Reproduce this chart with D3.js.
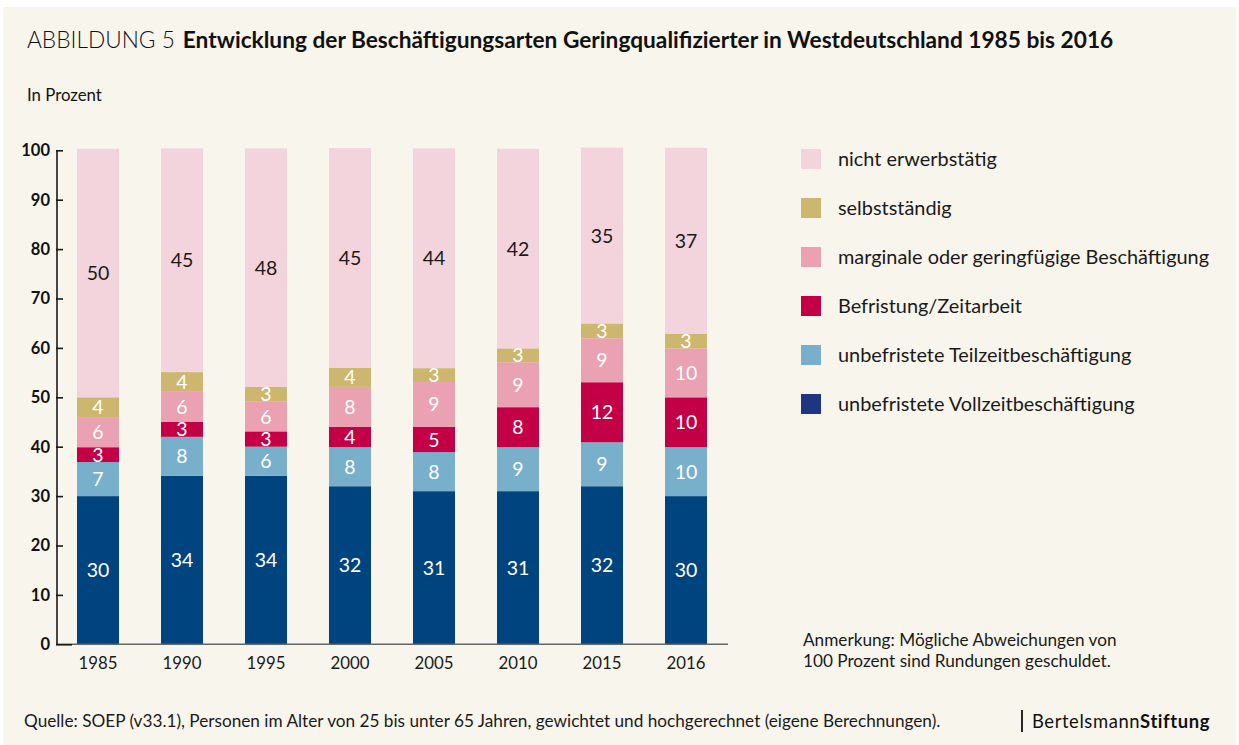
<!DOCTYPE html>
<html><head><meta charset="utf-8">
<script src="https://cdn.jsdelivr.net/npm/d3@7"></script>
<style>
html,body{margin:0;padding:0;background:#fff;}
svg{display:block;font-family:Lato, "Open Sans", sans-serif;}
</style></head>
<body>
<svg id="chart" width="1239" height="745"></svg>
<script>
// ---- data ----
const years = ["1985","1990","1995","2000","2005","2010","2015","2016"];
const seriesNames = [
  "unbefristete Vollzeitbeschäftigung",
  "unbefristete Teilzeitbeschäftigung",
  "Befristung/Zeitarbeit",
  "marginale oder geringfügige Beschäftigung",
  "selbstständig",
  "nicht erwerbstätig"
];
// bar heights (percent)
const vollzeit   = [30.0, 34.1, 34.1, 32.0, 31.0, 31.0, 32.0, 30.0];
const teilzeit   = [6.9, 7.9, 5.9, 7.9, 7.9, 8.9, 8.9, 9.9];
const befristung = [3.0, 3.0, 3.1, 4.1, 5.1, 8.1, 12.15, 10.1];
const marginal   = [6.1, 6.1, 6.0, 8.1, 9.1, 9.1, 8.9, 9.9];
const selbst     = [4.0, 4.0, 3.0, 3.85, 2.8, 2.8, 3.0, 3.0];
const nicht      = [50.3, 45.3, 48.3, 44.5, 44.5, 40.4, 35.6, 37.6];
// printed labels
const vollzeitLbl   = [30, 34, 34, 32, 31, 31, 32, 30];
const teilzeitLbl   = [7, 8, 6, 8, 8, 9, 9, 10];
const befristungLbl = [3, 3, 3, 4, 5, 8, 12, 10];
const marginalLbl   = [6, 6, 6, 8, 9, 9, 9, 10];
const selbstLbl     = [4, 4, 3, 4, 3, 3, 3, 3];
const nichtLbl      = [50, 45, 48, 45, 44, 42, 35, 37];
const yTicks = [0,10,20,30,40,50,60,70,80,90,100];

const seriesValues = [vollzeit, teilzeit, befristung, marginal, selbst, nicht];
const seriesLabels = [vollzeitLbl, teilzeitLbl, befristungLbl, marginalLbl, selbstLbl, nichtLbl];
const barColors   = ["#00447f", "#78afca", "#c30045", "#eaa1b1", "#cdb66e", "#f3d4dc"];
const legendColors= ["#1e3582", "#78afca", "#c30045", "#eaa1b1", "#cdb66e", "#f3d4dc"];
const labelColors = ["#fff","#fff","#fff","#fff","#fff","#1a1a1a"];

const svg = d3.select("#chart");
svg.append("rect").attr("x",3).attr("y",7).attr("width",1233).attr("height",738).attr("fill","#f8f5ed");

// title
const title = svg.append("text").attr("x",27).attr("y",48).attr("font-size",22.7).attr("fill","#111");
title.append("tspan").attr("font-weight",300).text("ABBILDUNG 5");
title.append("tspan").attr("font-weight",700).attr("dx",8).text("Entwicklung der Beschäftigungsarten Geringqualifizierter in Westdeutschland 1985 bis 2016");

svg.append("text").attr("x",27).attr("y",101).attr("font-size",16.8).attr("fill","#111").text("In Prozent");

// scales
const x = d3.scaleBand().domain(years).range([56, 728]).paddingInner(0.5).paddingOuter(0.25);
const y = d3.scaleLinear().domain([0,100]).range([644.3, 150.3]);

// stack
const rows = years.map((yr,i)=>{ const o={year:yr}; seriesNames.forEach((s,k)=>o[s]=seriesValues[k][i]); return o; });
const stacked = d3.stack().keys(seriesNames)(rows);

const g = svg.append("g");
stacked.forEach((layer,k)=>{
  const lg = g.append("g");
  lg.selectAll("rect").data(layer).join("rect")
    .attr("x", d=>x(d.data.year)).attr("width", x.bandwidth())
    .attr("y", d=>y(d[1])).attr("height", d=>y(d[0])-y(d[1]))
    .attr("fill", barColors[k]);
});
stacked.forEach((layer,k)=>{
  g.append("g").selectAll("text").data(layer).join("text")
    .attr("x", d=>x(d.data.year)+x.bandwidth()/2)
    .attr("y", d=>(y(d[0])+y(d[1]))/2)
    .attr("dy","0.36em").attr("text-anchor","middle")
    .attr("font-size",19.5).attr("fill",labelColors[k])
    .text((d,i)=>seriesLabels[k][i]);
});

// x axis baseline
svg.append("line").attr("x1",57).attr("x2",728).attr("y1",y(0)).attr("y2",y(0))
  .attr("stroke","#666").attr("stroke-width",1.6);
// y axis
const yAxis = svg.append("g").attr("transform","translate(57,0)")
  .call(d3.axisRight(y).tickValues(yTicks).tickSize(6).tickFormat(""));
yAxis.select(".domain").attr("stroke","#1a1a1a").attr("stroke-width",1.6).attr("d",`M0,${y(100)}V${y(0)}`);
yAxis.selectAll(".tick line").attr("stroke","#1a1a1a").attr("stroke-width",1.6).attr("x1",-1);
yAxis.selectAll(".tick line").filter(d=>d===0).attr("x2",15);
svg.append("g").selectAll("text").data(yTicks).join("text")
  .attr("x",50).attr("y",d=>y(d)).attr("dy","0.36em").attr("text-anchor","end")
  .attr("font-size",16.5).attr("font-weight",700).attr("fill","#111").text(d=>d);
// x labels
svg.append("g").selectAll("text").data(years).join("text")
  .attr("x",d=>x(d)+x.bandwidth()/2).attr("y",663).attr("dy","0.36em").attr("text-anchor","middle")
  .attr("font-size",16.8).attr("fill","#1a1a1a").text(d=>d);

// legend
const legendOrder = [5,4,3,2,1,0];
const lg = svg.append("g");
legendOrder.forEach((k,i)=>{
  const yy = 149 + i*49;
  lg.append("rect").attr("x",801).attr("y",yy).attr("width",20).attr("height",20).attr("fill",legendColors[k]);
  lg.append("text").attr("x",838).attr("y",yy+10).attr("dy","0.36em").attr("font-size",19.9).attr("fill","#1a1a1a").text(seriesNames[k]);
});

// notes
svg.append("text").attr("x",803).attr("y",640).attr("dy","0.36em").attr("font-size",17.2).attr("fill","#1a1a1a").text("Anmerkung: Mögliche Abweichungen von");
svg.append("text").attr("x",803).attr("y",661).attr("dy","0.36em").attr("font-size",17.2).attr("fill","#1a1a1a").text("100 Prozent sind Rundungen geschuldet.");
svg.append("text").attr("x",24).attr("y",721).attr("dy","0.36em").attr("font-size",17.2).attr("fill","#1a1a1a")
  .text("Quelle: SOEP (v33.1), Personen im Alter von 25 bis unter 65 Jahren, gewichtet und hochgerechnet (eigene Berechnungen).");
svg.append("line").attr("x1",1022).attr("x2",1022).attr("y1",710).attr("y2",732).attr("stroke","#111").attr("stroke-width",1.8);
const bs = svg.append("text").attr("x",1032).attr("y",721).attr("dy","0.36em").attr("font-size",18.4).attr("fill","#111").attr("letter-spacing",0.6);
bs.append("tspan").attr("font-weight",400).text("Bertelsmann");
bs.append("tspan").attr("font-weight",700).text("Stiftung");
</script>
</body></html>
